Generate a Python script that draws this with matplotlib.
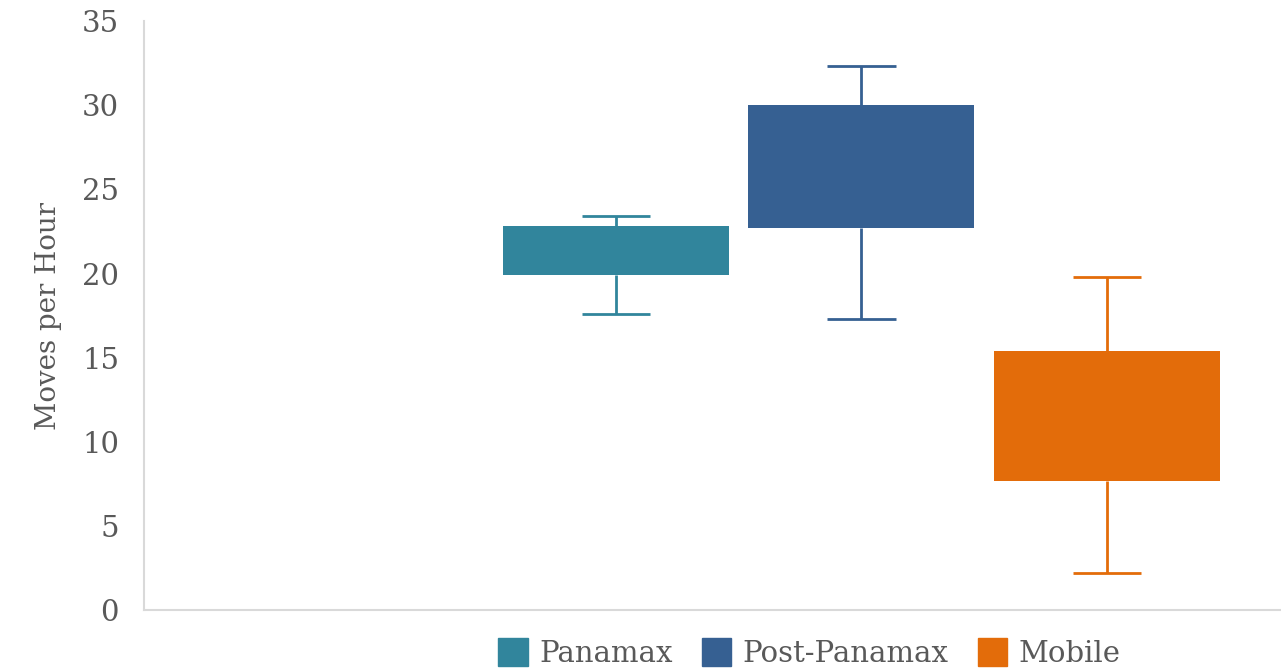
import matplotlib.pyplot as plt
from matplotlib.patches import Patch

# Crane productivity by vessel / crane type (moves per hour)
categories = ['Panamax', 'Post-Panamax', 'Mobile']
whisker_low = [17.6, 17.3, 2.2]
box_low = [19.9, 22.7, 7.7]
box_high = [22.8, 30.0, 15.4]
whisker_high = [23.4, 32.3, 19.8]
colors = ['#31859C', '#366092', '#E36C0A']

plt.rcParams['font.family'] = ['DejaVu Serif']

fig = plt.figure(figsize=(12.81, 6.71), dpi=100)
ax = fig.add_axes([0.1124, 0.0902, 0.8876, 0.8785])

positions = [1, 2, 3]
box_w = 0.92
cap_w = 0.28

for x, lo, q1, q3, hi, c in zip(positions, whisker_low, box_low, box_high, whisker_high, colors):
    ax.bar(x, q3 - q1, bottom=q1, width=box_w, color=c, zorder=3)
    ax.vlines(x, q3, hi, color=c, lw=2, zorder=2)
    ax.vlines(x, lo, q1, color=c, lw=2, zorder=2)
    ax.hlines([lo, hi], x - cap_w / 2, x + cap_w / 2, color=c, lw=2, zorder=2)

ax.set_xlim(-0.922, 3.709)
ax.set_ylim(0, 35)
ax.set_yticks(range(0, 36, 5))
ax.set_xticks([])
ax.tick_params(axis='y', length=0, pad=18, labelsize=21, labelcolor='#595959')
ax.set_ylabel('Moves per Hour', fontsize=20, color='#595959', labelpad=14)

for s in ['top', 'right']:
    ax.spines[s].set_visible(False)
for s in ['left', 'bottom']:
    ax.spines[s].set_color('#D9D9D9')
    ax.spines[s].set_linewidth(1.5)

handles = [Patch(facecolor=c, edgecolor=c) for c in colors]
fig.legend(handles, categories, loc='center', bbox_to_anchor=(0.632, 0.027),
           ncol=3, frameon=False, fontsize=21, labelcolor='#595959',
           handlelength=1.0, handleheight=1.1, handletextpad=0.4, columnspacing=1.0)

fig.savefig('out.png', dpi=100)
